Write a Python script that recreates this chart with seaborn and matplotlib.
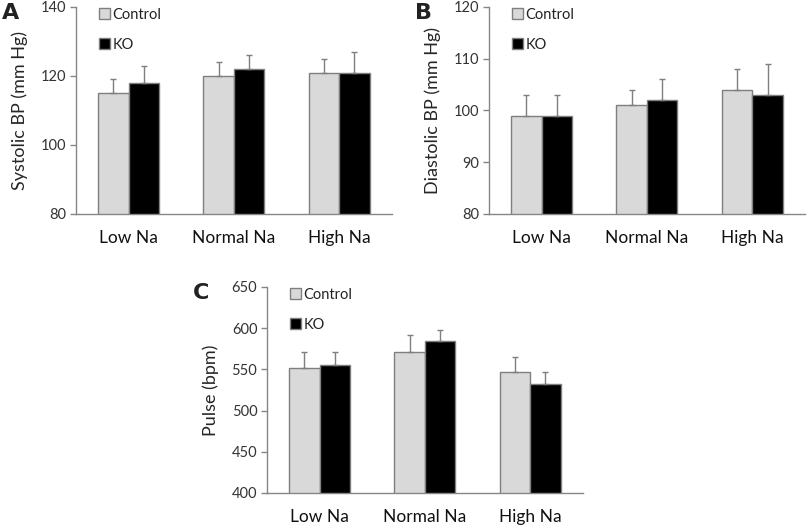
import numpy as np
import pandas as pd
import matplotlib.pyplot as plt
import seaborn as sns
from matplotlib.patches import Patch

plt.switch_backend('agg')

# data
diets = ['Low Na', 'Normal Na', 'High Na']
groups = ['Control', 'KO']

sys_control = [115, 120, 121]
sys_ko = [118, 122, 121]
sys_control_err = [4, 4, 4]
sys_ko_err = [5, 4, 6]

dia_control = [99, 101, 104]
dia_ko = [99, 102, 103]
dia_control_err = [4, 3, 4]
dia_ko_err = [4, 4, 6]

pulse_control = [552, 571, 547]
pulse_ko = [555, 584, 532]
pulse_control_err = [19, 21, 18]
pulse_ko_err = [16, 14, 15]

colors = {'Control': '#d9d9d9', 'KO': '#000000'}
edge = '#7f7f7f'

sns.set_style('white')
plt.rcParams['font.family'] = ['Lato', 'DejaVu Sans']
plt.rcParams['text.color'] = '#222222'


def panel(ax, ctrl, ko, ctrl_err, ko_err, ylim, yticks, ylabel, letter):
    df = pd.DataFrame({
        'diet': diets * 2,
        'group': ['Control'] * 3 + ['KO'] * 3,
        'value': ctrl + ko,
    })
    sns.barplot(data=df, x='diet', y='value', hue='group', order=diets,
                hue_order=groups, palette=colors, width=0.58, errorbar=None,
                edgecolor=edge, linewidth=1, legend=False, ax=ax)
    errs = ctrl_err + ko_err
    vals = ctrl + ko
    for p, v, e in zip(ax.patches, vals, errs):
        xc = p.get_x() + p.get_width() / 2
        ax.errorbar(xc, v, yerr=[[0], [e]], fmt='none', ecolor=edge,
                    elinewidth=1, capsize=2.5, capthick=1, zorder=3)
    ax.set_ylim(*ylim)
    ax.set_yticks(yticks)
    ax.set_xlim(-0.5, 2.5)
    ax.set_xlabel('')
    ax.set_ylabel(ylabel, fontsize=13, labelpad=9)
    for s in ['top', 'right']:
        ax.spines[s].set_visible(False)
    for s in ['left', 'bottom']:
        ax.spines[s].set_color('#868686')
        ax.spines[s].set_linewidth(1)
    ax.tick_params(axis='y', which='both', left=True, length=4, width=1,
                   color='#868686', labelsize=10.5, pad=3, labelcolor='#333333')
    ax.tick_params(axis='x', bottom=False, labelsize=12.5, pad=8,
                   labelcolor='#111111')
    handles = [Patch(facecolor=colors[g], edgecolor=edge, linewidth=1, label=g)
               for g in groups]
    ax.legend(handles=handles, loc='upper left', bbox_to_anchor=(0.03, 1.06),
              frameon=False, fontsize=10.5, handlelength=0.75, handleheight=0.75,
              handletextpad=0.2, labelspacing=1.1)
    ax.text(-0.234, 0.97, letter, transform=ax.transAxes, fontsize=16,
            fontweight='bold', va='center', ha='left', family='DejaVu Sans')


fig = plt.figure(figsize=(8.1, 5.25), dpi=100)
ax_a = fig.add_axes([0.0938, 0.5924, 0.390, 0.3943])
ax_b = fig.add_axes([0.6037, 0.5924, 0.390, 0.3943])
ax_c = fig.add_axes([0.3296, 0.0610, 0.390, 0.3924])

panel(ax_a, sys_control, sys_ko, sys_control_err, sys_ko_err,
      (80, 140), [80, 100, 120, 140], 'Systolic BP (mm Hg)', 'A')
panel(ax_b, dia_control, dia_ko, dia_control_err, dia_ko_err,
      (80, 120), [80, 90, 100, 110, 120], 'Diastolic BP (mm Hg)', 'B')
panel(ax_c, pulse_control, pulse_ko, pulse_control_err, pulse_ko_err,
      (400, 650), [400, 450, 500, 550, 600, 650], 'Pulse (bpm)', 'C')

fig.savefig('out.png', dpi=100)
